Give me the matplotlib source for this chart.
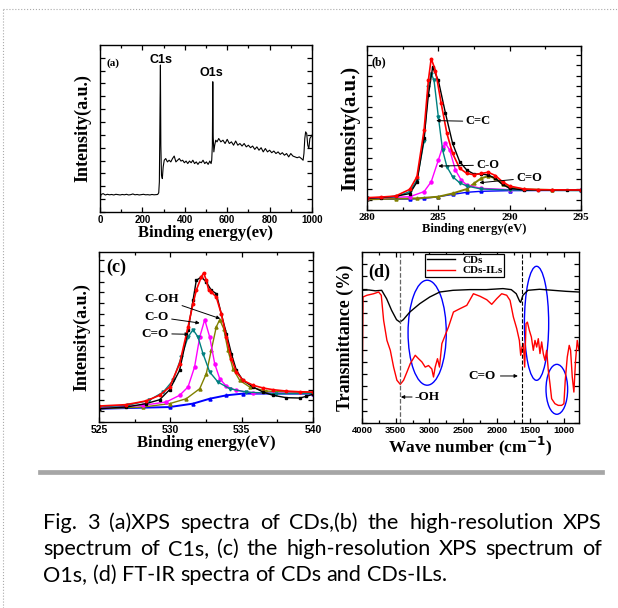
import numpy as np
import matplotlib.pyplot as plt
from matplotlib.patches import Ellipse
from matplotlib.lines import Line2D
from matplotlib.ticker import MultipleLocator

SERIF = 'Liberation Serif'
SANS = 'Liberation Sans'

# (a) XPS survey of CDs
survey_x = [0, 5, 15, 25, 35, 45, 55, 65, 75, 85,
            95, 105, 115, 125, 135, 145, 155, 165, 175, 185,
            195, 205, 215, 225, 235, 245, 255, 265, 272, 277,
            280, 283, 285, 287, 290, 294, 298, 303, 310, 318,
            326, 334, 342, 350, 358, 366, 374, 382, 390, 398,
            406, 414, 422, 430, 438, 446, 454, 462, 470, 478,
            486, 494, 502, 510, 518, 524, 527, 530, 532, 534,
            537, 541, 546, 552, 560, 570, 580, 590, 600, 610,
            620, 630, 640, 650, 660, 670, 680, 690, 700, 710,
            720, 730, 740, 750, 760, 770, 780, 790, 800, 810,
            820, 830, 840, 850, 860, 870, 880, 890, 900, 910,
            920, 930, 940, 950, 958, 962, 966, 970, 975, 980,
            985, 990, 995, 1000]
survey_y = [7, 10.5, 11, 10.2, 10.6, 10.3, 10.5, 10.2, 10.6, 10.4,
            10.2, 10.5, 10.3, 10.6, 10.2, 10.4, 10.8, 10.3, 10.5, 10.2,
            10.4, 10.6, 10.3, 10.4, 10.2, 10.5, 10.3, 10.4, 10.5, 11.5,
            18, 60, 88, 40, 22, 20, 27, 31, 32, 30,
            31, 30, 32, 33.5, 30, 31, 32, 30.5, 31, 29.5,
            30.5, 29, 30.5, 29.5, 31, 29, 30, 28.5, 30, 29.5,
            31, 29, 30, 28.5, 30.5, 29, 31, 40, 78, 45,
            36, 40, 43, 42, 44, 42, 43, 41, 43.5, 41,
            42, 40, 42.5, 40, 41, 39.5, 41, 39, 40, 38.5,
            39.5, 37.5, 39, 37, 38.5, 36, 38, 36, 37, 35.5,
            36.5, 35, 36, 34.5, 35.5, 34, 35, 33, 35, 33.5,
            33, 32.5, 33, 32, 31, 35, 44, 48, 47, 40,
            38, 44, 45, 46]

# (b) C1s high resolution
c1s_raw_x = [280, 281, 282, 283, 283.5, 284, 284.3, 284.6, 285, 285.5, 286, 286.5,
             287, 287.5, 288, 288.5, 289, 289.5, 290, 291, 292, 293, 294, 295]
c1s_raw = [7.1, 7.6, 8.4, 10, 17, 44, 70, 87, 79, 59, 40.6, 29.4,
           24.3, 21.9, 22, 21.3, 19.3, 15.6, 13.2, 12.2, 12.2, 12.1, 12.2, 12.1]
c1s_fit_x = [280, 281, 282, 283, 283.5, 284, 284.3, 284.5, 284.8, 285.2, 285.6, 286,
             286.5, 287, 287.5, 288, 288.5, 289, 289.5, 290, 291, 292, 293, 295]
c1s_fit = [7.5, 7.9, 8.5, 12.6, 20.3, 48.7, 79, 92.3, 85, 65, 46.7, 34.5,
           25.4, 22.3, 21.5, 22.3, 23, 21, 17.2, 14.6, 12.8, 12.4, 12.3, 12.2]
cc_x = [280, 282, 283, 283.5, 284, 284.3, 284.5, 284.7, 285, 285.3, 285.6, 286,
        286.5, 287, 288, 290, 295]
cc_y = [7.3, 8.0, 11.2, 18.3, 42, 75, 83.2, 79, 56.8, 36.5, 26.4, 20.3,
        16.6, 14.6, 12.8, 12.2, 11.8]
co_x = [280, 283, 284, 284.5, 285, 285.3, 285.5, 285.8, 286.2, 286.6, 287, 288, 290, 295]
co_y = [7.1, 8.1, 11.2, 17.2, 30.4, 38.5, 40.6, 36.5, 24.3, 18.3, 15.2, 13.2, 12.4, 12.2]
cdo_x = [280, 282, 283.5, 285, 286, 287, 287.5, 288, 288.5, 289, 289.5, 290, 291, 293, 295]
cdo_y = [6.5, 6.9, 7.1, 8.1, 10.1, 12.8, 16.2, 19.3, 20.7, 19.3, 15.8, 13.8, 12.6, 12.2, 12.2]
bgb_x = [280, 283, 284, 285, 286, 287, 288, 290, 295]
bgb_y = [6.5, 6.7, 7.1, 8.1, 9.5, 10.8, 11.4, 11.8, 12.0]

# (c) O1s high resolution
o1s_raw_x = [525, 526.9, 528.3, 529.25, 529.95, 530.65, 531.24, 531.59, 531.82, 532.17,
             532.52, 532.87, 533.22, 533.57, 533.93, 534.28, 534.63, 535.09, 535.8, 536.5,
             537.2, 538.13, 539.07, 539.53, 540]
o1s_raw = [7.8, 8.8, 10.8, 13.1, 19, 30.4, 53.9, 71.6, 83.3, 85.3,
           82.4, 77.5, 75.5, 63.7, 52, 40.2, 30.4, 24.5, 20.6, 17.6,
           15.7, 14.3, 14.1, 15.1, 16.3]
o1s_fit_x = [525, 526.9, 528.3, 529.25, 529.95, 530.65, 531.24, 531.59, 531.82, 532.17,
             532.34, 532.52, 532.69, 532.87, 533.22, 533.57, 533.93, 534.28, 534.63, 535.09,
             535.8, 536.5, 537.2, 538.13, 539.07, 540]
o1s_fit = [9.4, 10.2, 12.4, 15.7, 20.6, 34.3, 55.9, 69.6, 77.5, 85.3,
           87.8, 83.3, 77.5, 76.5, 73.5, 63.7, 50, 37.3, 29.4, 24.5,
           21.6, 20, 19, 18.2, 17.8, 17.6]
ocdo_x = [525, 527, 528.5, 529.5, 530.19, 530.77, 531.24, 531.59, 531.94, 532.29,
          532.76, 533.34, 534.16, 535.33, 537.43, 540]
ocdo_y = [8.8, 9.8, 12.7, 17.6, 24.5, 38.2, 50, 54.3, 50, 40.2,
          29.4, 23.5, 19.6, 17.6, 16.7, 16.7]
oco_x = [525, 528.08, 529.72, 530.65, 531.24, 531.7, 532.06, 532.41, 532.76, 533.11,
         533.46, 533.93, 534.63, 535.8, 540]
oco_y = [8.2, 9.8, 11.8, 15.7, 20.6, 32.4, 50, 60.2, 50, 34.3,
         25.5, 21, 18.6, 17.1, 16.7]
ocoh_x = [525, 528.08, 529.95, 531.12, 532.06, 532.52, 532.87, 533.22, 533.46, 533.74,
          534.04, 534.39, 534.86, 535.56, 536.73, 540]
ocoh_y = [7.8, 8.8, 10.8, 13.7, 19.6, 28.4, 42.2, 55.9, 60.2, 54.9,
          42.2, 31.4, 24.5, 20.6, 18.2, 17.1]
bgc_x = [525, 529.95, 531.59, 532.76, 533.93, 535.09, 540]
bgc_y = [7.8, 8.8, 10.8, 13.7, 15.7, 16.7, 16.7]

# (d) FT-IR
ir_cds_x = [4000, 3900, 3800, 3708, 3635, 3561, 3487, 3438, 3388, 3290,
            3142, 2994, 2846, 2649, 2402, 2155, 1908, 1785, 1711, 1661,
            1646, 1612, 1538, 1365, 1168, 971, 780]
ir_cds = [77.6, 77.8, 77.3, 77.6, 72.7, 65.9, 60.4, 59, 60.4, 64.9,
          69.8, 73.7, 76.6, 77.6, 78, 78, 78.6, 78, 75.6, 71.2,
          70.5, 74.7, 77.6, 78.2, 77.6, 77, 76.6]
ir_ils_x = [4000, 3985, 3926, 3827, 3753, 3714, 3679, 3630, 3580, 3531,
            3482, 3432, 3383, 3333, 3284, 3210, 3161, 3111, 3062, 3013,
            2964, 2939, 2914, 2880, 2850, 2815, 2766, 2717, 2643, 2544,
            2445, 2347, 2248, 2149, 2075, 2001, 1927, 1853, 1803, 1754,
            1704, 1665, 1645, 1625, 1606, 1586, 1566, 1546, 1517, 1487,
            1458, 1433, 1408, 1384, 1359, 1334, 1310, 1285, 1260, 1236,
            1211, 1186, 1137, 1088, 1038, 1004, 984, 954, 925, 905,
            880, 856, 831, 806, 780]
ir_ils = [11.3, 73.7, 74.7, 75.6, 76.6, 74.7, 60, 48.3, 42.5, 32.7,
          25, 22.6, 25, 29.8, 34.7, 39.6, 37.6, 35.7, 32.7, 33.6,
          31.6, 26.9, 32.7, 37.6, 32.7, 46.4, 51.3, 56.1, 64.9, 66.9,
          68.8, 75.6, 74.1, 72.1, 69.4, 72.7, 75.6, 74.7, 71.7, 62,
          55.2, 48.3, 39.6, 44.4, 46.4, 32.7, 58.1, 59, 54.2, 50.3,
          42.5, 48.3, 44.4, 49.3, 40.6, 47.4, 40.6, 36.6, 42.5, 31,
          23, 14.2, 11.3, 10.3, 10.3, 11.3, 25, 38.6, 45.4, 42.5,
          26.9, 18.1, 36.6, 48.3, 42.5]
# ellipses: centre wavenumber, centre value, width, height
ring_x = [3033, 1410, 1109]
ring_y = [52.8, 58.3, 19.7]
ring_w = [567, 360, 321]
ring_h = [61.4, 66.7, 29.2]

caption = ["Fig. 3 (a)XPS spectra of CDs,(b) the high-resolution XPS",
           "spectrum of C1s, (c) the high-resolution XPS spectrum of",
           "O1s, (d) FT-IR spectra of CDs and CDs-ILs."]

W, H = 618, 608
fig = plt.figure(figsize=(W / 100, H / 100), dpi=100)


def box(l, t, r, b):
    return fig.add_axes([l / W, 1 - b / H, (r - l) / W, (b - t) / H])


def style(ax, font, size, xmaj, xmin, ystep):
    ax.tick_params(which='both', direction='in', top=True, right=True, width=0.9, pad=2)
    ax.tick_params(which='major', length=3.5)
    ax.tick_params(which='minor', length=2)
    ax.xaxis.set_major_locator(MultipleLocator(xmaj))
    ax.xaxis.set_minor_locator(MultipleLocator(xmin))
    ax.yaxis.set_major_locator(MultipleLocator(ystep))
    ax.set_yticklabels([])
    ax.set_ylim(0, 100)
    for s in ax.spines.values():
        s.set_linewidth(1.0)
    for lab in ax.get_xticklabels():
        lab.set_fontfamily(font)
        lab.set_fontweight('bold')
        lab.set_fontsize(size)


def lbl(size):
    return dict(family=SERIF, weight='bold', size=size)


arrow = dict(arrowstyle='-|>', color='k', lw=0.7, mutation_scale=5, shrinkA=0, shrinkB=0)

# ---- (a)
ax = box(100, 45, 312, 212)
ax.plot(survey_x, survey_y, color='k', lw=0.8)
ax.set_xlim(0, 1000)
style(ax, SANS, 7, 200, 100, 7.7)
ax.set_xlabel('Binding energy(ev)', fontdict=lbl(12), labelpad=0)
ax.set_ylabel('Intensity(a.u.)', fontdict=lbl(13), labelpad=4)
ax.text(31, 89, '(a)', fontdict=lbl(8), va='center')
ax.text(290, 91, 'C1s', family=SANS, weight='bold', size=9, ha='center', va='center')
ax.text(526, 83, 'O1s', family=SANS, weight='bold', size=9, ha='center', va='center')

# ---- (b)
ax = box(367, 46, 581, 210)
ms = 2.2
ax.plot(bgb_x, bgb_y, color='#0000ff', lw=1, marker='^', ms=ms)
ax.plot(cdo_x, cdo_y, color='#808000', lw=1.4, marker='^', ms=ms)
ax.plot(co_x, co_y, color='#ff00ff', lw=1, marker='o', ms=ms)
ax.plot(cc_x, cc_y, color='#008080', lw=1, marker='v', ms=ms)
ax.plot(c1s_raw_x, c1s_raw, color='k', lw=1, marker='s', ms=1.8)
ax.plot(c1s_fit_x, c1s_fit, color='#ff0000', lw=1.2, marker='o', ms=1.8)
ax.set_xlim(280, 295)
style(ax, SERIF, 8, 5, 2.5, 6.3)
ax.set_xlabel('Binding energy(eV)', fontdict=lbl(9), labelpad=1)
ax.set_ylabel('Intensity(a.u.)', fontdict=lbl(15), labelpad=3)
ax.text(280.35, 90.3, '(b)', fontdict=lbl(8.5), va='center')
ax.annotate('C=C', xy=(284.85, 54.5), xytext=(286.9, 54), fontsize=9, family=SERIF,
            weight='bold', va='center', arrowprops=arrow)
ax.annotate('C-O', xy=(285.0, 26.8), xytext=(287.65, 27.4), fontsize=9, family=SERIF,
            weight='bold', va='center', arrowprops=arrow)
ax.annotate('C=O', xy=(287.88, 16.6), xytext=(290.45, 19.5), fontsize=9, family=SERIF,
            weight='bold', va='center', arrowprops=arrow)

# ---- (c)
ax = box(99, 252, 313, 422)
ax.plot(bgc_x, bgc_y, color='#0000ff', lw=1.4, marker='^', ms=ms)
ax.plot(ocoh_x, ocoh_y, color='#808000', lw=1, marker='^', ms=ms)
ax.plot(oco_x, oco_y, color='#ff00ff', lw=1, marker='o', ms=ms)
ax.plot(ocdo_x, ocdo_y, color='#008080', lw=1, marker='v', ms=ms)
ax.plot(o1s_raw_x, o1s_raw, color='k', lw=1, marker='s', ms=1.8)
ax.plot(o1s_fit_x, o1s_fit, color='#ff0000', lw=1.2, marker='o', ms=1.8)
ax.set_xlim(525, 540)
style(ax, SANS, 7.5, 5, 2.5, 6.35)
ax.set_xlabel('Binding energy(eV)', fontdict=lbl(12), labelpad=0)
ax.set_ylabel('Intensity(a.u.)', fontdict=lbl(13), labelpad=4)
ax.text(525.5, 91, '(c)', fontdict=lbl(13), va='center')
ax.annotate('C-OH', xy=(533.5, 60.8), xytext=(528.2, 72.5), fontsize=9.5, family=SERIF,
            weight='bold', va='center', arrowprops=arrow)
ax.annotate('C-O', xy=(532.06, 58.2), xytext=(528.2, 61.8), fontsize=9.5, family=SERIF,
            weight='bold', va='center', arrowprops=arrow)
ax.annotate('C=O', xy=(531.3, 51.6), xytext=(528.0, 52), fontsize=9.5, family=SERIF,
            weight='bold', va='center', arrowprops=arrow)

# ---- (d)
ax = box(362, 252, 579, 423)
ax.plot(ir_cds_x, ir_cds, color='k', lw=1, label='CDs')
ax.plot(ir_ils_x, ir_ils, color='#ff0000', lw=1, label='CDs-ILs')
for cx, cy, ww, hh in zip(ring_x, ring_y, ring_w, ring_h):
    ax.add_patch(Ellipse((cx, cy), ww, hh, fill=False, edgecolor='#0000ff', lw=1))
ax.axvline(3430, color='#666666', ls='--', lw=0.9)
ax.axvline(1630, color='k', ls='--', lw=0.8)
ax.set_xlim(4000, 780)
style(ax, SANS, 6.8, 500, 250, 7.15)
ax.set_xlabel('Wave number (cm$^{\\mathbf{-1}}$)', fontdict=lbl(12.5), labelpad=0)
ax.set_ylabel('Transmittance (%)', fontdict=lbl(13), labelpad=4)
ax.text(3907, 88.3, '(d)', fontdict=lbl(13), va='center')
ax.annotate('-OH', xy=(3423, 15.2), xytext=(3216, 15.2), fontsize=9.5, family=SERIF,
            weight='bold', va='center', arrowprops=arrow)
ax.annotate('', xy=(1687, 27.5), xytext=(1946, 27.5), arrowprops=arrow)
ax.text(2427, 27.5, 'C=O', fontsize=9.5, family=SERIF, weight='bold', va='center')
leg = ax.legend(loc='upper left', bbox_to_anchor=(0.29, 0.99), prop=lbl(8),
                fancybox=False, edgecolor='k', framealpha=1, handlelength=2.6,
                borderpad=0.15, labelspacing=0.05, handletextpad=0.6, borderaxespad=0)
leg.get_frame().set_linewidth(0.9)

# gray rule and dotted page frame
fig.add_artist(Line2D([40 / W, 602 / W], [1 - 472 / H] * 2, color='#a6a6a6', lw=3.4))
fig.add_artist(Line2D([3 / W, 1], [1 - 9 / H] * 2, color='#aaaaaa', lw=0.8, ls=':'))
fig.add_artist(Line2D([3 / W, 3 / W], [0, 1 - 9 / H], color='#aaaaaa', lw=0.8, ls=':'))

# caption: font sized so the justified lines need only a little extra spacing
r = fig.canvas.get_renderer()
CAP_FONT = 'Lato'
probe = fig.text(0, 0, caption[1], family=CAP_FONT, size=10)
fs = 10 * 540 / probe.get_window_extent(r).width
probe.remove()
sp = fig.text(0, 0, 'a a', family=CAP_FONT, size=fs)
sp2 = fig.text(0, 0, 'aa', family=CAP_FONT, size=fs)
space = sp.get_window_extent(r).width - sp2.get_window_extent(r).width
sp.remove()
sp2.remove()

x0, x1 = 43, 602
for i, line in enumerate(caption):
    y = 1 - (529 + 26 * i) / H
    words = line.split(' ')
    texts = [fig.text(0, y, w, family=CAP_FONT, size=fs, va='baseline') for w in words]
    widths = [t.get_window_extent(r).width for t in texts]
    gap = (x1 - x0 - sum(widths)) / (len(words) - 1) if i < 2 else space
    x = x0
    for t, w in zip(texts, widths):
        t.set_x(x / W)
        x += w + gap

fig.savefig('out.png', dpi=100)
